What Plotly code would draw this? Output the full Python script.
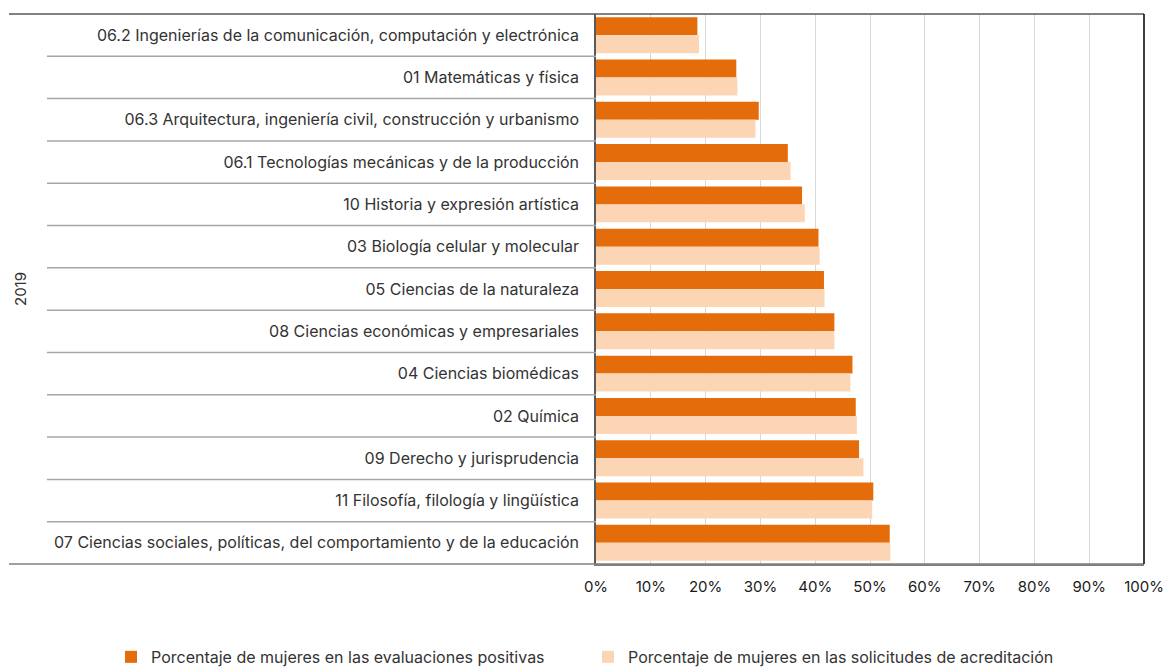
import plotly.graph_objects as go

categories = [
    "06.2 Ingenierías de la comunicación, computación y electrónica",
    "01 Matemáticas y física",
    "06.3 Arquitectura, ingeniería civil, construcción y urbanismo",
    "06.1 Tecnologías mecánicas y de la producción",
    "10 Historia y expresión artística",
    "03 Biología celular y molecular",
    "05 Ciencias de la naturaleza",
    "08 Ciencias económicas y empresariales",
    "04 Ciencias biomédicas",
    "02 Química",
    "09 Derecho y jurisprudencia",
    "11 Filosofía, filología y lingüística",
    "07 Ciencias sociales, políticas, del comportamiento y de la educación",
]
evaluaciones_positivas = [0.185, 0.256, 0.297, 0.350, 0.376, 0.406, 0.416, 0.435, 0.468, 0.474, 0.480, 0.506, 0.536]
solicitudes = [0.188, 0.258, 0.291, 0.355, 0.381, 0.408, 0.417, 0.435, 0.464, 0.476, 0.488, 0.504, 0.537]
series_names = ["Porcentaje de mujeres en las evaluaciones positivas",
                "Porcentaje de mujeres en las solicitudes de acreditación"]
year_label = "2019"
x_ticks = [i / 10 for i in range(11)]
x_tick_labels = [f"{i*10}%" for i in range(11)]

DARK = "#E46C0A"
LIGHT = "#FCD5B5"
FONT = "Inter, Lato, 'Noto Sans', sans-serif"

fig = go.Figure()
fig.add_trace(go.Bar(y=categories, x=evaluaciones_positivas, orientation="h",
                     name=series_names[0], marker=dict(color=DARK, line=dict(width=0))))
fig.add_trace(go.Bar(y=categories, x=solicitudes, orientation="h",
                     name=series_names[1], marker=dict(color=LIGHT, line=dict(width=0))))

W, H = 1164, 668
L, R, T, B = 596, 20, 14, 104
pw = W - L - R

fig.update_layout(
    width=W, height=H,
    margin=dict(l=L, r=R, t=T, b=B, autoexpand=False),
    paper_bgcolor="white", plot_bgcolor="white",
    barmode="group", bargap=0.15, bargroupgap=0,
    showlegend=True,
    legend=dict(orientation="h", x=(111 - L) / pw, xanchor="left", xref="paper",
                y=-0.169, yanchor="middle",
                font=dict(family=FONT, size=16, color="#333333"),
                traceorder="normal", itemwidth=30, entrywidth=432, entrywidthmode="pixels"),
    xaxis=dict(range=[0, 1], tickvals=x_ticks, ticktext=x_tick_labels,
               showgrid=True, gridcolor="#D9D9D9", gridwidth=1,
               showline=True, linecolor="#7F7F7F", linewidth=1.5, mirror=False,
               ticks="", ticklabelstandoff=8,
               tickfont=dict(family=FONT, size=15, color="#1A1A1A"),
               zeroline=False, fixedrange=True),
    yaxis=dict(type="category", autorange="reversed",
               showline=True, linecolor="#595959", linewidth=1.5,
               ticks="", ticklabelstandoff=12, showgrid=False,
               tickfont=dict(family=FONT, size=16, color="#333333"),
               fixedrange=True),
)

n = len(categories)
x_sep = (47 - L) / pw
x_outer = (9 - L) / pw
shapes = []
for k in range(1, n):
    shapes.append(dict(type="line", xref="paper", yref="y", x0=x_sep, x1=0,
                       y0=k - 0.5, y1=k - 0.5, line=dict(color="#A6A6A6", width=1.5)))
shapes.append(dict(type="line", xref="paper", yref="paper", x0=x_outer, x1=1, y0=1, y1=1,
                   line=dict(color="#595959", width=1.5)))
shapes.append(dict(type="line", xref="paper", yref="paper", x0=x_outer, x1=1, y0=0, y1=0,
                   line=dict(color="#7F7F7F", width=1.5)))
shapes.append(dict(type="line", xref="paper", yref="paper", x0=1, x1=1, y0=0, y1=1,
                   line=dict(color="#000000", width=1.5)))
fig.update_layout(shapes=shapes)

fig.add_annotation(text=year_label, xref="paper", yref="paper", x=(20 - L) / pw, y=0.5,
                   textangle=-90, showarrow=False, xanchor="center", yanchor="middle",
                   font=dict(family=FONT, size=15, color="#333333"))

fig.write_html("out.html", config={"displayModeBar": False},
               post_script="document.body.style.margin='0';document.body.style.overflow='hidden';")
